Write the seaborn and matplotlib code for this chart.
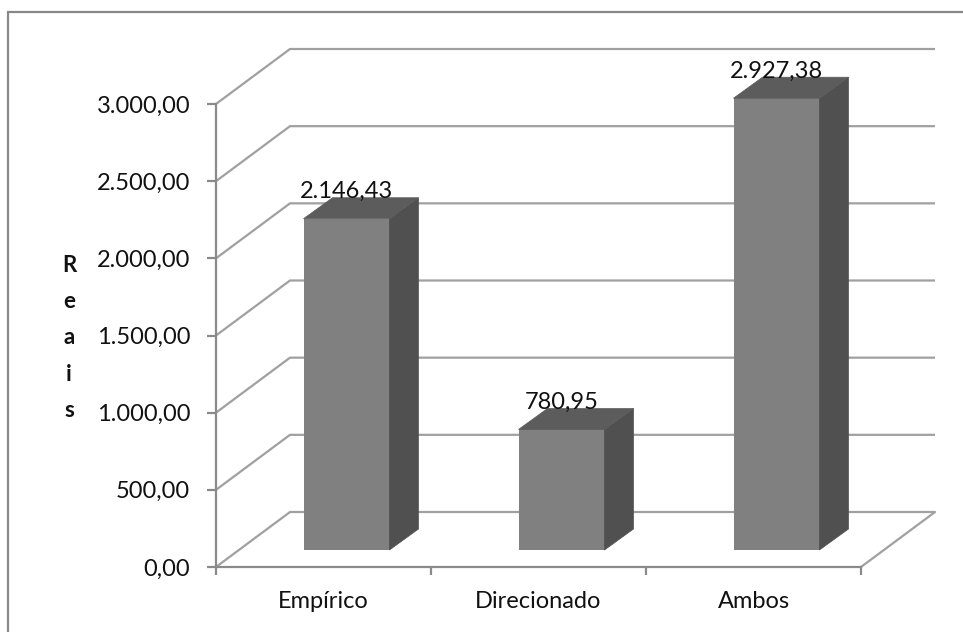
import matplotlib
matplotlib.use("Agg")
import matplotlib.pyplot as plt
from matplotlib.patches import Polygon, Rectangle
import seaborn as sns
import pandas as pd

# Chart data
categories = ["Empírico", "Direcionado", "Ambos"]
values = [2146.43, 780.95, 2927.38]
y_ticks = [0, 500, 1000, 1500, 2000, 2500, 3000]
y_title = "Reais"

sns.set_style("white")
plt.rcParams["font.family"] = ["Lato", "DejaVu Sans"]

GRID = "#a0a0a0"
AXIS = "#8a8a8a"
FRONT = "#808080"
SIDE = "#505050"
TOP = "#5c5c5c"


def br(v):
    s = f"{v:,.2f}"
    return s.replace(",", "#").replace(".", ",").replace("#", ".")


W, H = 963, 632
fig = plt.figure(figsize=(W / 100, H / 100), dpi=100)
ax = fig.add_axes([216 / W, 1 - 567 / H, (861 - 216) / W, (567 - 104) / H])

df = pd.DataFrame({"categoria": categories, "valor": values})
sns.barplot(data=df, x="categoria", y="valor", color=FRONT, width=0.4,
            saturation=1, ax=ax, linewidth=0, zorder=3)
ax.set_xlim(-0.5, len(categories) - 0.5)
ax.set_ylim(y_ticks[0], y_ticks[-1])

# pixel -> data scale factors of the front plane
p0 = ax.transData.transform((0, 0))
p1 = ax.transData.transform((1, 1000))
sx = p1[0] - p0[0]          # px per category
sy = (p1[1] - p0[1]) / 1000  # px per unit value


def off(dx_px, dy_px):
    return dx_px / sx, dy_px / sy


# full depth of the box and the slab occupied by the bars
DX, DY = off(74, 55)
BX0, BY0 = off(23, 17)
BX1, BY1 = off(29, 21)

xl, xr = ax.get_xlim()

# back wall grid and side-wall diagonals
for t in y_ticks:
    ax.plot([xl, xl + DX, xr + DX], [t, t + DY, t + DY], color=GRID,
            lw=1.6, clip_on=False, zorder=1, solid_capstyle="butt")
# floor right edge
ax.plot([xr, xr + DX], [0, DY], color=GRID, lw=1.6, clip_on=False, zorder=1)

# 3D bars
for patch, v in zip(list(ax.patches), values):
    patch.set_x(patch.get_x() + BX0)
    patch.set_y(BY0)
    patch.set_clip_on(False)
    x0 = patch.get_x()
    x1 = x0 + patch.get_width()
    y0 = BY0
    y1 = BY0 + v
    side = Polygon([(x1, y0), (x1 + BX1, y0 + BY1), (x1 + BX1, y1 + BY1), (x1, y1)],
                   closed=True, facecolor=SIDE, edgecolor=SIDE, lw=0.5,
                   clip_on=False, zorder=3)
    top = Polygon([(x0, y1), (x0 + BX1, y1 + BY1), (x1 + BX1, y1 + BY1), (x1, y1)],
                  closed=True, facecolor=TOP, edgecolor=TOP, lw=0.5,
                  clip_on=False, zorder=3)
    ax.add_patch(side)
    ax.add_patch(top)
    ax.annotate(br(v), ((x0 + x1) / 2, y1), xytext=(0, 27 * 0.72),
                textcoords="offset points", ha="center", va="center",
                fontsize=17, color="#111111", zorder=5, annotation_clip=False)

# axes styling
for s in ("top", "right"):
    ax.spines[s].set_visible(False)
for s in ("left", "bottom"):
    ax.spines[s].set_color(AXIS)
    ax.spines[s].set_linewidth(1.6)
    ax.spines[s].set_zorder(2)

ax.set_yticks(y_ticks)
ax.set_yticklabels([br(t) for t in y_ticks])
ax.set_xticks(range(len(categories)))
ax.set_xticklabels(categories)
ax.set_xticks([i - 0.5 for i in range(len(categories) + 1)], minor=True)
ax.tick_params(axis="y", direction="out", length=6.5, width=1.6, color=AXIS,
               pad=12, labelsize=17, labelcolor="#111111", left=True)
ax.tick_params(axis="x", which="major", length=0, pad=17, labelsize=17,
               labelcolor="#111111")
ax.tick_params(axis="x", which="minor", direction="out", length=6, width=1.6,
               color=AXIS, bottom=True)
ax.set_xlabel("")
ax.set_ylabel("")
ax.patch.set_alpha(0)

# stacked axis title
fig.text(69 / W, 1 - 338 / H, "\n".join(y_title), ha="center", va="center",
         fontsize=16, fontweight="bold", linespacing=1.9, color="#111111",
         multialignment="center")

# chart area border
fig.patches.append(Rectangle((8 / W, -0.1), 1.2, 1 - 12 / H + 0.1,
                             transform=fig.transFigure, fill=False,
                             edgecolor="#888888", lw=1.6, zorder=0))

fig.savefig("out.png", dpi=100)
